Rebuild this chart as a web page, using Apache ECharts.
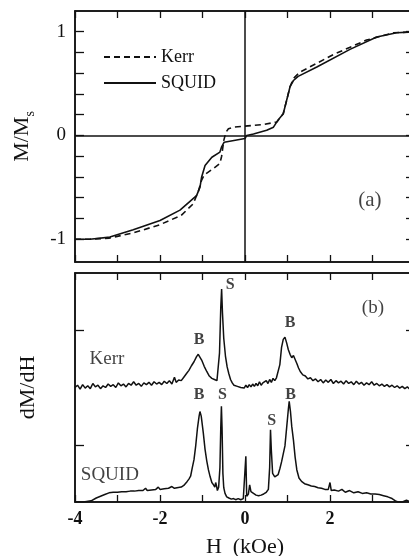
<!DOCTYPE html>
<html>
	<head>
		<meta charset="utf-8">
		<title>M/Ms and dM/dH</title>
		<script src="https://cdn.jsdelivr.net/npm/echarts@6/dist/echarts.min.js"></script>
		<style>
			html, body { margin: 0; padding: 0; background: #fff; }
			#main { width: 409px; height: 556px; }
		</style>
	</head>
	<body>
		<div id="main"></div>
		<script>
			// (a) magnetisation loops, [H kOe, M/Ms]
			var kerrM = [[-4.0,-1.0],[-3.65,-1.0],[-3.2,-0.99],[-2.63,-0.94],[-2.0,-0.86],[-1.5,-0.77],[-1.22,-0.66],[-1.1,-0.54],
				[-1.02,-0.43],[-0.96,-0.38],[-0.75,-0.32],[-0.59,-0.27],[-0.55,-0.2],[-0.5,-0.05],[-0.45,0.03],[-0.39,0.065],
				[-0.27,0.08],[0.0,0.09],[0.43,0.105],[0.75,0.13],[0.9,0.21],[0.98,0.34],[1.06,0.47],[1.14,0.55],[1.29,0.61],
				[2.08,0.78],[2.86,0.92],[3.5,0.99],[4.0,1.0]];
			var squidM = [[-4.0,-1.0],[-3.65,-1.0],[-3.18,-0.98],[-2.63,-0.91],[-2.0,-0.82],[-1.53,-0.72],[-1.14,-0.58],[-1.06,-0.5],
				[-1.02,-0.4],[-0.94,-0.29],[-0.78,-0.21],[-0.59,-0.16],[-0.55,-0.11],[-0.49,-0.065],[0.0,-0.03],[0.04,0.0],
				[0.2,0.015],[0.51,0.05],[0.67,0.08],[0.78,0.15],[0.9,0.21],[0.98,0.34],[1.06,0.47],[1.14,0.53],[1.25,0.57],
				[1.69,0.66],[2.47,0.83],[3.1,0.95],[3.57,0.99],[4.0,1.0]];

			// (b) derivatives, offset traces, [H kOe, dM/dH arb.]
			var kerrD = [[-4.00,2.00],[-3.94,2.04],[-3.88,1.97],[-3.82,2.05],[-3.76,1.99],[-3.70,2.03],[-3.64,1.98],[-3.58,2.07],
				[-3.52,2.01],[-3.46,2.04],[-3.40,1.98],[-3.34,2.03],[-3.28,2.00],[-3.22,2.06],[-3.16,2.02],[-3.10,2.05],[-3.04,2.00],
				[-2.98,2.08],[-2.92,2.03],[-2.86,2.06],[-2.80,2.01],[-2.74,2.07],[-2.68,2.04],[-2.62,2.10],[-2.56,2.04],[-2.50,2.07],
				[-2.44,2.02],[-2.38,2.08],[-2.32,2.05],[-2.26,2.09],[-2.20,2.04],[-2.14,2.10],[-2.08,2.06],[-2.02,2.09],[-1.96,2.05],
				[-1.90,2.11],[-1.84,2.07],[-1.78,2.12],[-1.72,2.06],[-1.66,2.18],[-1.62,2.09],[-1.56,2.13],[-1.50,2.12],[-1.44,2.18],
				[-1.38,2.24],[-1.32,2.30],[-1.26,2.38],[-1.20,2.45],[-1.14,2.54],[-1.10,2.58],[-1.06,2.55],[-1.02,2.48],[-0.96,2.37],
				[-0.90,2.28],[-0.84,2.20],[-0.78,2.16],[-0.72,2.14],[-0.66,2.12],[-0.62,2.14],[-0.60,2.60],[-0.57,3.40],[-0.55,3.72],
				[-0.53,3.30],[-0.50,2.86],[-0.46,2.55],[-0.42,2.36],[-0.38,2.24],[-0.34,2.14],[-0.30,2.08],[-0.26,2.04],[-0.22,2.06],
				[-0.18,2.02],[-0.14,2.05],[-0.10,2.00],[-0.06,2.03],[-0.02,1.99],[0.02,2.04],[0.06,2.00],[0.10,2.05],[0.14,2.01],
				[0.18,2.06],[0.22,2.02],[0.26,2.07],[0.30,2.03],[0.34,2.10],[0.38,2.04],[0.42,2.08],[0.46,2.05],[0.50,2.12],
				[0.54,2.07],[0.58,2.14],[0.62,2.09],[0.66,2.16],[0.70,2.12],[0.74,2.17],[0.78,2.20],[0.82,2.40],[0.86,2.70],
				[0.90,2.84],[0.94,2.88],[0.98,2.78],[1.02,2.66],[1.06,2.58],[1.10,2.52],[1.14,2.56],[1.18,2.54],[1.22,2.42],
				[1.26,2.34],[1.30,2.28],[1.36,2.22],[1.42,2.20],[1.48,2.15],[1.54,2.17],[1.60,2.12],[1.66,2.15],[1.72,2.10],
				[1.78,2.14],[1.84,2.08],[1.90,2.13],[1.96,2.09],[2.02,2.14],[2.08,2.07],[2.14,2.12],[2.20,2.08],[2.26,2.11],
				[2.32,2.06],[2.38,2.12],[2.44,2.07],[2.50,2.10],[2.56,2.05],[2.62,2.11],[2.68,2.06],[2.74,2.09],[2.80,2.04],
				[2.86,2.08],[2.92,2.05],[2.98,2.10],[3.04,2.04],[3.10,2.07],[3.16,2.03],[3.22,2.06],[3.28,2.02],[3.34,2.05],
				[3.40,2.01],[3.46,2.04],[3.52,2.00],[3.58,2.03],[3.64,1.99],[3.70,2.02],[3.76,1.98],[3.82,2.01],[3.88,1.97],
				[3.94,2.00],[4.00,1.98]];
			var squidD = [[-4.00,0.00],[-3.80,0.00],[-3.62,0.02],[-3.50,0.07],[-3.40,0.10],[-3.30,0.13],[-3.20,0.16],[-3.10,0.17],
				[-3.00,0.17],[-2.90,0.18],[-2.80,0.18],[-2.70,0.19],[-2.60,0.19],[-2.50,0.20],[-2.40,0.20],[-2.34,0.24],[-2.30,0.20],
				[-2.20,0.21],[-2.10,0.22],[-2.04,0.26],[-2.00,0.22],[-1.90,0.23],[-1.80,0.24],[-1.72,0.27],[-1.66,0.24],[-1.60,0.25],
				[-1.50,0.26],[-1.44,0.29],[-1.40,0.29],[-1.36,0.36],[-1.32,0.40],[-1.28,0.45],[-1.24,0.60],[-1.20,0.74],[-1.16,0.98],
				[-1.12,1.28],[-1.08,1.50],[-1.06,1.58],[-1.03,1.50],[-0.98,1.20],[-0.94,0.92],[-0.90,0.72],[-0.86,0.56],[-0.82,0.44],
				[-0.78,0.34],[-0.74,0.30],[-0.71,0.26],[-0.69,0.34],[-0.67,0.28],[-0.65,0.20],[-0.62,0.26],[-0.59,0.60],[-0.57,1.30],
				[-0.555,1.67],[-0.54,1.30],[-0.52,0.50],[-0.50,0.25],[-0.47,0.15],[-0.43,0.09],[-0.38,0.07],[-0.32,0.05],[-0.27,0.06],
				[-0.22,0.04],[-0.16,0.06],[-0.10,0.04],[-0.04,0.06],[0.00,0.05],[0.02,0.80],[0.04,0.10],[0.08,0.14],[0.11,0.30],
				[0.14,0.18],[0.20,0.15],[0.26,0.12],[0.32,0.11],[0.38,0.12],[0.44,0.14],[0.50,0.17],[0.55,0.22],[0.58,0.60],
				[0.60,1.26],[0.62,0.90],[0.65,0.50],[0.70,0.44],[0.74,0.41],[0.78,0.48],[0.82,0.58],[0.86,0.70],[0.90,0.84],
				[0.94,0.98],[0.98,1.30],[1.02,1.62],[1.04,1.76],[1.07,1.58],[1.10,1.32],[1.14,1.08],[1.18,0.78],[1.22,0.56],
				[1.27,0.42],[1.33,0.36],[1.40,0.32],[1.48,0.30],[1.56,0.28],[1.64,0.27],[1.72,0.25],[1.80,0.24],[1.88,0.22],
				[1.96,0.22],[2.00,0.34],[2.03,0.20],[2.10,0.21],[2.20,0.19],[2.28,0.22],[2.36,0.17],[2.46,0.20],[2.56,0.16],
				[2.66,0.18],[2.76,0.15],[2.86,0.16],[2.96,0.14],[3.06,0.14],[3.16,0.13],[3.26,0.11],[3.36,0.09],[3.46,0.06],
				[3.54,0.02],[3.60,0.00],[3.70,0.00],[3.80,0.03],[3.90,0.00],[4.00,0.00]];

			// text placed in data coordinates
			var notesA = [{value: [2.94, -0.63], name: '(a)'}];
			var notesB = [
				{value: [-1.08, 2.84], name: 'B'}, {value: [-0.35, 3.80], name: 'S'}, {value: [1.06, 3.13], name: 'B'},
				{value: [-1.08, 1.87], name: 'B'}, {value: [-0.53, 1.87], name: 'S'},
				{value: [0.63, 1.42], name: 'S'}, {value: [1.07, 1.87], name: 'B'}
			];
			var tagsB = [
				{value: [3.01, 3.39], name: '(b)'}, {value: [-3.25, 2.49], name: 'Kerr'}, {value: [-3.18, 0.47], name: 'SQUID'}
			];

			var hTicks = [-4, -3, -2, -1, 0, 1, 2, 3, 4];
			var hLabels = [-4, -2, 0, 2, 4];
			var mTicks = [-1, -0.8, -0.6, -0.4, -0.2, 0, 0.2, 0.4, 0.6, 0.8, 1];
			var mLabels = [-1, 0, 1];
			var dTicks = [1, 3];

			var serif = 'Liberation Serif';
			var black = '#111';

			var chart = echarts.init(document.getElementById('main'), null, {renderer: 'canvas'});

			function hAxis(grid, pos, labels, name) {
				return {
					type: 'value', gridIndex: grid, position: pos, min: -4, max: 4,
					axisLine: {show: true, onZero: false, lineStyle: {color: black, width: 1.5}},
					axisTick: {show: true, inside: true, length: 7, customValues: hTicks, lineStyle: {color: black, width: 1.3}},
					axisLabel: labels ? {show: true, customValues: labels, margin: 8, color: black,
						fontFamily: serif, fontSize: 18, fontWeight: 'bold'} : {show: false},
					splitLine: {show: false},
					name: name || '', nameLocation: 'middle', nameGap: 34,
					nameTextStyle: {fontFamily: serif, fontSize: 22, color: black}
				};
			}

			function vAxis(grid, pos, min, max, ticks, labels, name, rich) {
				return {
					type: 'value', gridIndex: grid, position: pos, min: min, max: max,
					axisLine: {show: true, onZero: false, lineStyle: {color: black, width: 1.5}},
					axisTick: {show: true, inside: true, length: 9, customValues: ticks, lineStyle: {color: black, width: 1.3}},
					axisLabel: labels ? {show: true, customValues: labels, margin: 9, color: black,
						fontFamily: serif, fontSize: 19} : {show: false},
					splitLine: {show: false},
					name: name || '', nameLocation: 'middle', nameGap: rich ? 38 : 36,
					nameTextStyle: {fontFamily: serif, fontSize: 22, color: black, rich: rich}
				};
			}

			var option = {
				backgroundColor: '#fff',
				animation: false,
				legend: {
					data: ['Kerr', 'SQUID'], orient: 'vertical', left: 98, top: 43,
					itemWidth: 52, itemHeight: 18, itemGap: 8,
					itemStyle: {opacity: 0},
					textStyle: {fontFamily: serif, fontSize: 18, color: black}
				},
				grid: [
					{left: 75, top: 11, width: 340, height: 251, show: true, borderColor: black, borderWidth: 1.5,
						outerBoundsMode: 'none'},
					{left: 75, top: 273, width: 340, height: 229, show: true, borderColor: black, borderWidth: 1.5,
						outerBoundsMode: 'none'}
				],
				xAxis: [
					hAxis(0, 'bottom'), hAxis(0, 'top'),
					hAxis(1, 'bottom', hLabels, 'H  (kOe)'), hAxis(1, 'top')
				],
				yAxis: [
					vAxis(0, 'left', -1.22, 1.2, mTicks, mLabels, '{m|M/M}{s|s}', {
						m: {fontFamily: serif, fontSize: 22, color: black, lineHeight: 30},
						s: {fontFamily: serif, fontSize: 14, color: black, lineHeight: 30, verticalAlign: 'bottom'}
					}),
					vAxis(0, 'right', -1.22, 1.2, mTicks),
					vAxis(1, 'left', 0, 4, dTicks, null, 'dM/dH'),
					vAxis(1, 'right', 0, 4, dTicks)
				],
				series: [
					{
						name: 'Kerr', type: 'line', xAxisIndex: 0, yAxisIndex: 0, data: kerrM,
						symbol: 'none', lineStyle: {color: black, width: 1.6, type: [6, 4]}, itemStyle: {color: black}
					},
					{
						name: 'SQUID', type: 'line', xAxisIndex: 0, yAxisIndex: 0, data: squidM,
						symbol: 'none', lineStyle: {color: black, width: 1.6}, itemStyle: {color: black},
						markLine: {
							silent: true, symbol: 'none', label: {show: false},
							lineStyle: {color: black, width: 1.5, type: 'solid'},
							data: [{xAxis: 0}, {yAxis: 0}]
						}
					},
					{
						name: 'Kerr dM/dH', type: 'line', xAxisIndex: 2, yAxisIndex: 2, data: kerrD,
						symbol: 'none', lineStyle: {color: black, width: 1.5}
					},
					{
						name: 'SQUID dM/dH', type: 'line', xAxisIndex: 2, yAxisIndex: 2, data: squidD,
						symbol: 'none', lineStyle: {color: black, width: 1.5}
					},
					{
						name: 'notes a', type: 'scatter', xAxisIndex: 0, yAxisIndex: 0, data: notesA,
						symbolSize: 0, silent: true,
						label: {show: true, position: 'inside', formatter: '{b}', fontFamily: serif, fontSize: 21, color: black}
					},
					{
						name: 'notes b', type: 'scatter', xAxisIndex: 2, yAxisIndex: 2, data: notesB,
						symbolSize: 0, silent: true,
						label: {show: true, position: 'inside', formatter: '{b}', fontFamily: serif, fontSize: 16,
							fontWeight: 'bold', color: black}
					},
					{
						name: 'tags b', type: 'scatter', xAxisIndex: 2, yAxisIndex: 2, data: tagsB,
						symbolSize: 0, silent: true,
						label: {show: true, position: 'inside', formatter: '{b}', fontFamily: serif, fontSize: 19, color: black}
					}
				]
			};

			chart.setOption(option);
		</script>
	</body>
</html>
